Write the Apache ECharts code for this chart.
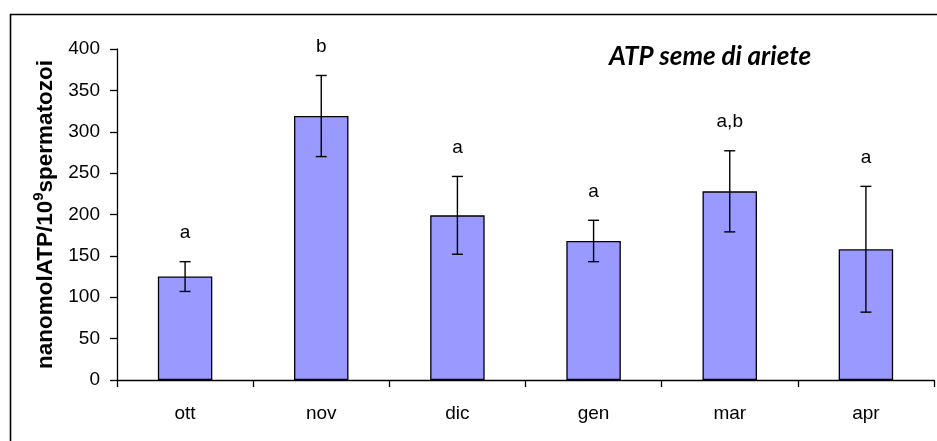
<!DOCTYPE html>
<html>
<head>
<meta charset="utf-8">
<script src="https://cdn.jsdelivr.net/npm/echarts@6/dist/echarts.min.js"></script>
<style>html,body{margin:0;padding:0;background:#fff}#c{width:937px;height:441px}</style>
</head>
<body>
<div id="c"></div>
<script>
const categories = ['ott', 'nov', 'dic', 'gen', 'mar', 'apr'];
const means = [125, 319, 199, 168, 228, 158];
const errors = [18, 49, 47, 25, 49, 76];
const letters = ['a', 'b', 'a', 'a', 'a,b', 'a'];
const yTicks = [0, 50, 100, 150, 200, 250, 300, 350, 400];

const chart = echarts.init(document.getElementById('c'), null, {renderer: 'canvas'});
const F = '"Liberation Sans", Arial, sans-serif';

const errData = categories.map((c, i) => [i, means[i], errors[i], letters[i]]);

chart.setOption({
  animation: false,
  backgroundColor: '#fff',
  title: {
    text: 'ATP seme di ariete',
    left: 705, top: 39, textAlign: 'center',
    textStyle: {fontFamily: 'Lato, "Open Sans", sans-serif', fontStyle: 'italic', fontWeight: 'bold', fontSize: 26, color: '#000'}
  },
  graphic: [{
    type: 'rect', left: 8, top: 12, silent: true,
    shape: {width: 940, height: 440},
    style: {fill: 'none', stroke: '#000', lineWidth: 1.6}
  }],
  grid: {left: 117, right: 3, top: 49, bottom: 61, containLabel: false},
  xAxis: {
    type: 'category', data: categories, boundaryGap: true,
    axisLine: {lineStyle: {color: '#000', width: 1.3}},
    axisTick: {show: true, length: 7, lineStyle: {color: '#000', width: 1.3}},
    axisLabel: {margin: 24, fontFamily: F, fontSize: 19, color: '#000'},
    splitLine: {show: false}
  },
  yAxis: {
    type: 'value', min: yTicks[0], max: yTicks[yTicks.length - 1], interval: 50,
    name: '{b|nanomolATP/10}{s|9}{b|spermatozoi}',
    nameLocation: 'middle', nameGap: 57, nameRotate: 90,
    nameTextStyle: {
      rich: {
        b: {fontFamily: F, fontWeight: 'bold', fontSize: 22.5, color: '#000', verticalAlign: 'bottom', lineHeight: 26},
        s: {fontFamily: F, fontWeight: 'bold', fontSize: 15, color: '#000', verticalAlign: 'top', lineHeight: 26, padding: [0, 0, 11, 0]}
      }
    },
    axisLine: {show: true, lineStyle: {color: '#000', width: 1.3}},
    axisTick: {show: true, length: 7, lineStyle: {color: '#000', width: 1.3}},
    axisLabel: {margin: 17, fontFamily: F, fontSize: 19, color: '#000'},
    splitLine: {show: false}
  },
  series: [{
    type: 'bar', data: means, barWidth: '40%',
    itemStyle: {color: '#9999FF', borderColor: '#000', borderWidth: 1.3},
    z: 2
  }, {
    type: 'custom', data: errData, z: 3,
    renderItem: function (params, api) {
      const x = api.value(0), m = api.value(1), e = api.value(2);
      const top = api.coord([x, m + e]);
      const bot = api.coord([x, m - e]);
      const hw = 5.5;
      const ls = {stroke: '#000', lineWidth: 1.4};
      return {
        type: 'group',
        children: [
          {type: 'line', shape: {x1: top[0], y1: top[1], x2: bot[0], y2: bot[1]}, style: ls},
          {type: 'line', shape: {x1: top[0] - hw, y1: top[1], x2: top[0] + hw, y2: top[1]}, style: ls},
          {type: 'line', shape: {x1: bot[0] - hw, y1: bot[1], x2: bot[0] + hw, y2: bot[1]}, style: ls},
          {type: 'text', style: {text: letters[params.dataIndex], x: top[0], y: top[1] - 29, align: 'center', verticalAlign: 'middle', font: '19px ' + F, fill: '#000'}}
        ]
      };
    }
  }]
});
</script>
</body>
</html>
